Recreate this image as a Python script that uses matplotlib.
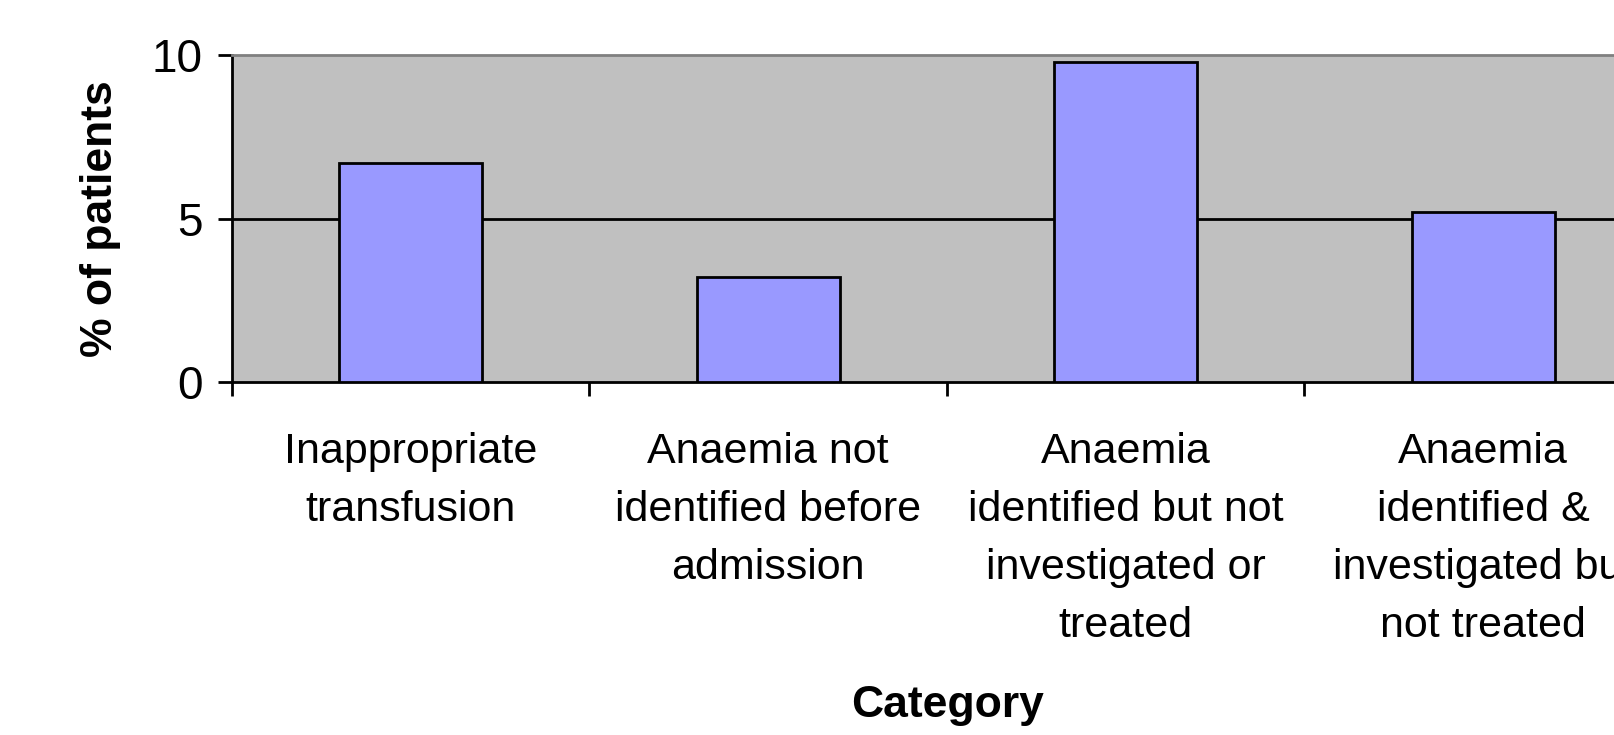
import matplotlib
matplotlib.use("Agg")
import matplotlib.pyplot as plt

plt.rcParams['font.family'] = ['Liberation Sans', 'DejaVu Sans']

categories = [
    "Inappropriate\ntransfusion",
    "Anaemia not\nidentified before\nadmission",
    "Anaemia\nidentified but not\ninvestigated or\ntreated",
    "Anaemia\nidentified &\ninvestigated but\nnot treated",
]
percent_patients = [6.7, 3.2, 9.8, 5.2]
y_ticks = [0, 5, 10]

FS = 31

fig = plt.figure(figsize=(16.15, 7.35), dpi=100)
W, H = 1615, 735
left, right, top, bottom = 232, 1662, 55, 382
ax = fig.add_axes([left / W, 1 - bottom / H, (right - left) / W, (bottom - top) / H])
ax.set_facecolor('#C0C0C0')

positions = [i + 0.5 for i in range(len(categories))]
ax.bar(positions, percent_patients, width=0.4, color='#9999FF',
       edgecolor='black', linewidth=2, zorder=3)

ax.set_xlim(0, len(categories))
ax.set_ylim(0, 10)

# horizontal gridline at 5
ax.axhline(5, color='black', linewidth=2, zorder=1)

# spines
ax.spines['left'].set_color('black')
ax.spines['left'].set_linewidth(2)
ax.spines['bottom'].set_color('black')
ax.spines['bottom'].set_linewidth(2)
ax.spines['top'].set_color('#808080')
ax.spines['top'].set_linewidth(2)
ax.spines['right'].set_visible(False)

# y ticks
ax.set_yticks(y_ticks)
ax.set_yticklabels([str(t) for t in y_ticks])
ax.tick_params(axis='y', direction='out', length=10, width=2, labelsize=33, pad=11)

# x ticks at category boundaries, labels centred on categories
ax.set_xticks(range(len(categories) + 1))
ax.set_xticklabels([])
ax.tick_params(axis='x', which='major', direction='out', length=10, width=2)
ax.set_xticks(positions, minor=True)
ax.set_xticklabels(categories, minor=True, fontsize=FS, linespacing=1.58)
ax.tick_params(axis='x', which='minor', length=0, pad=36)

ax.set_ylabel('% of patients', fontsize=FS + 1, fontweight='bold', labelpad=22)
fig.text(948 / W, 1 - 705 / H, 'Category', fontsize=FS + 1, fontweight='bold',
         ha='center', va='center')

fig.savefig('out.png', dpi=100)
